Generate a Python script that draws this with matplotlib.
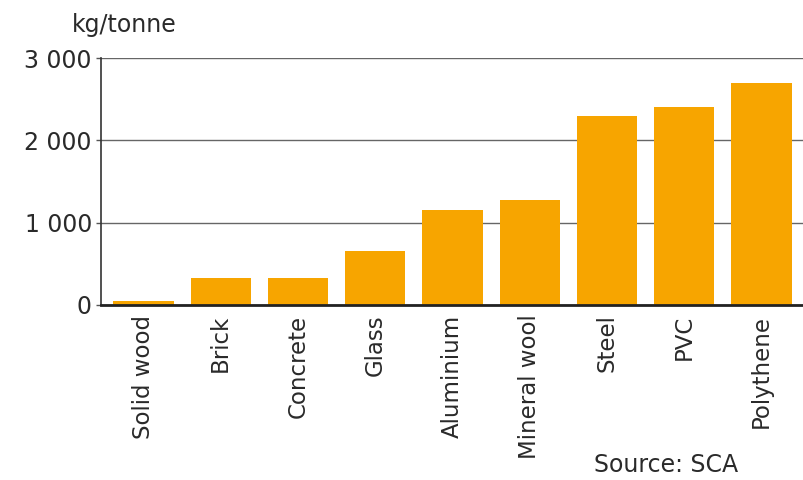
import matplotlib
matplotlib.use("Agg")
import matplotlib.pyplot as plt
import matplotlib.ticker as mticker

materials = ['Solid wood', 'Brick', 'Concrete', 'Glass', 'Aluminium',
             'Mineral wool', 'Steel', 'PVC', 'Polythene']
values = [50, 320, 320, 660, 1150, 1280, 2290, 2400, 2700]
yticks = [0, 1000, 2000, 3000]

plt.rcParams['font.family'] = ['DejaVu Sans']

fig = plt.figure(figsize=(8.04, 4.8), dpi=100)
ax = fig.add_axes([0.1256, 0.365, 0.8744, 0.514])

ax.bar(range(len(materials)), values, width=0.78, color='#F7A500', zorder=2)

ax.set_xlim(-0.55, 8.55)
ax.set_ylim(0, 3000)
ax.set_yticks(yticks)
ax.yaxis.set_major_formatter(mticker.FuncFormatter(lambda v, p: f'{int(v):,}'.replace(',', ' ')))
ax.set_xticks(range(len(materials)))
ax.set_xticklabels(materials, rotation=90, fontsize=16.5, color='#2a2a2a')
ax.tick_params(axis='x', length=0, pad=7)
ax.tick_params(axis='y', length=3.5, width=1, color='#555555', labelsize=17, pad=3,
               labelcolor='#2a2a2a')

ax.grid(axis='y', color='#666666', linewidth=1, zorder=1)
for s in ['top', 'right']:
    ax.spines[s].set_visible(False)
ax.spines['left'].set_color('#333333')
ax.spines['left'].set_linewidth(1.2)
ax.spines['bottom'].set_color('#222222')
ax.spines['bottom'].set_linewidth(2)
ax.spines['bottom'].set_zorder(3)

fig.text(0.089, 1 - 32 / 480, 'kg/tonne', fontsize=17, color='#2a2a2a', va='baseline')
fig.text(0.739, 3 / 480, 'Source: SCA', fontsize=17, color='#2a2a2a', va='bottom')

fig.savefig('out.png', dpi=100, facecolor='white')
